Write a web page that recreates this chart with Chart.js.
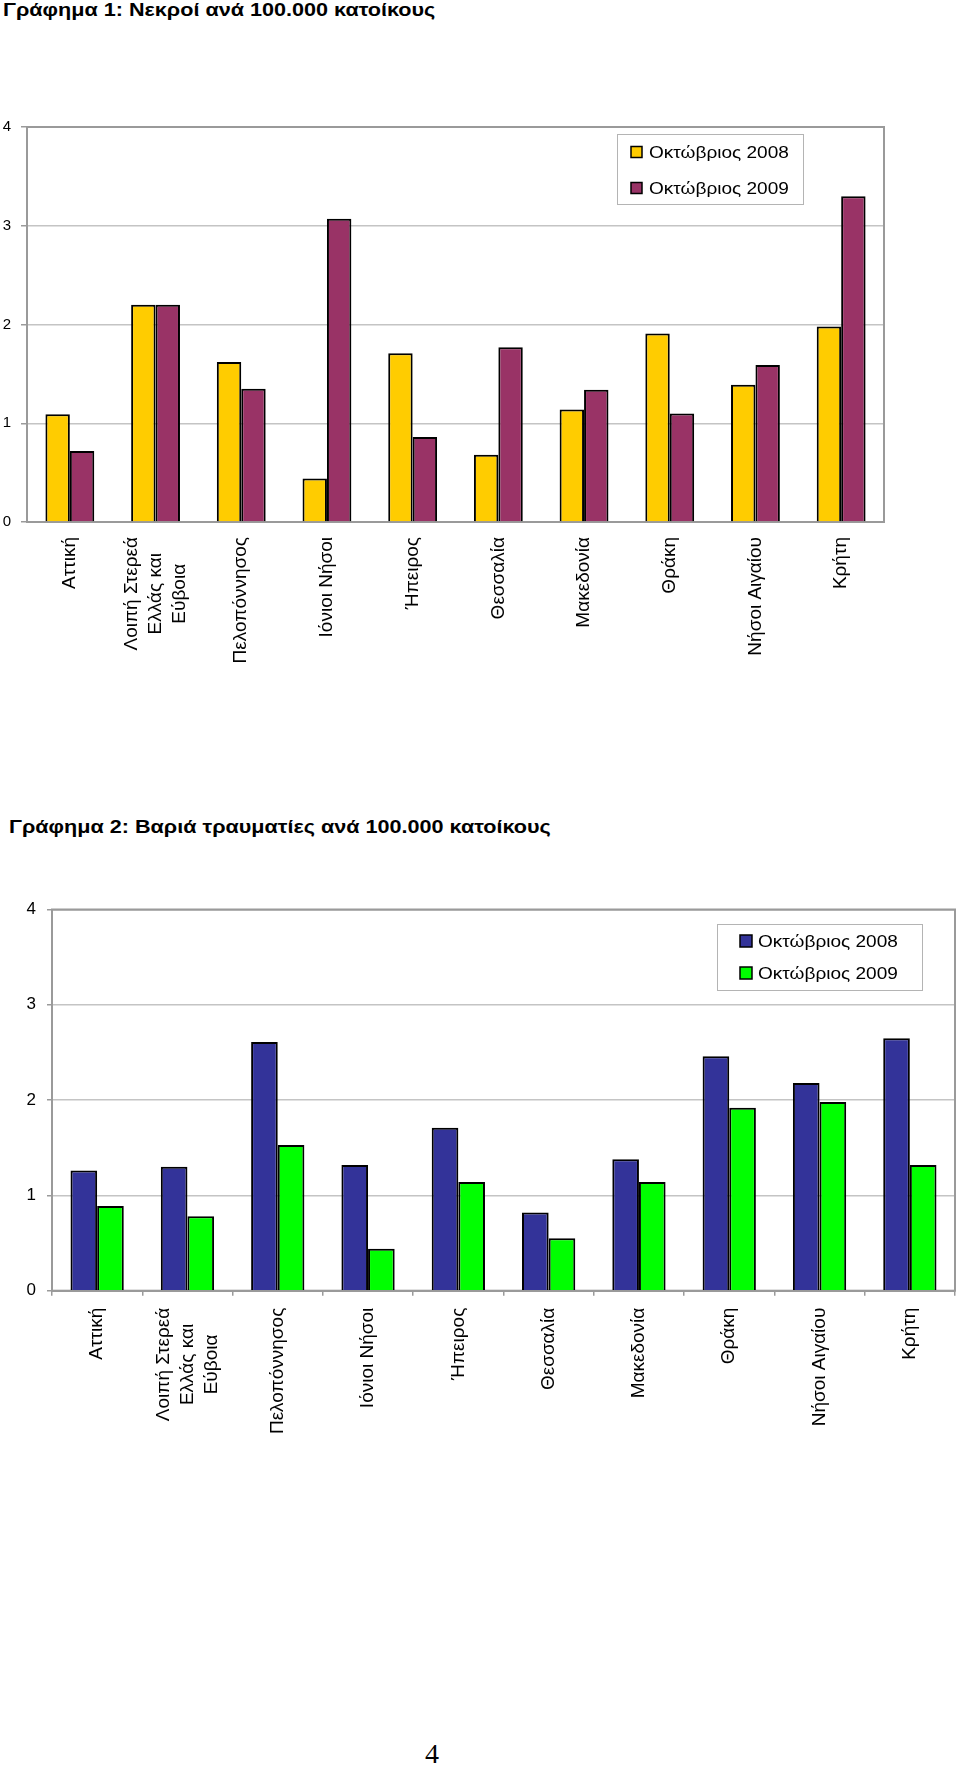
<!DOCTYPE html>
<html lang="el">
<head>
<meta charset="utf-8">
<title>Γραφήματα ανά 100.000 κατοίκους</title>
<script src="https://cdn.jsdelivr.net/npm/chart.js@4.4.1/dist/chart.umd.min.js"></script>
<style>
  html, body { margin:0; padding:0; background:#fff; }
  body { width:960px; height:1767px; position:relative; overflow:hidden; font-family:"Liberation Sans", Arial, sans-serif; }
  .title { position:absolute; font-weight:bold; font-size:18px; line-height:18px; white-space:nowrap; color:#000;
           transform:scaleX(1.2); transform-origin:0 0; }
  canvas { position:absolute; left:0; }
  #pageno { position:absolute; left:425px; top:1740px; font-family:"Liberation Serif", serif; font-size:28px; line-height:28px; }
</style>
</head>
<body>
<div class="title" id="t1" style="left:3px; top:1px;">Γράφημα 1: Νεκροί ανά 100.000 κατοίκους</div>
<canvas id="deaths" width="900" height="580" style="top:100px;"></canvas>
<div class="title" id="t2" style="left:9px; top:818px;">Γράφημα 2: Βαριά τραυματίες ανά 100.000 κατοίκους</div>
<canvas id="injured" width="960" height="560" style="top:880px;"></canvas>
<div id="pageno">4</div>

<script>
// regions (multi-line label kept as array)
const regions = ['Αττική', ['Λοιπή Στερεά', 'Ελλάς και', 'Εύβοια'], 'Πελοπόννησος', 'Ιόνιοι Νήσοι',
  'Ήπειρος', 'Θεσσαλία', 'Μακεδονία', 'Θράκη', 'Νήσοι Αιγαίου', 'Κρήτη'];
const seriesNames = ['Οκτώβριος 2008', 'Οκτώβριος 2009'];
const yTicks = [0, 1, 2, 3, 4];

// Γράφημα 1: νεκροί
const deaths2008 = [1.09, 2.20, 1.62, 0.44, 1.71, 0.68, 1.14, 1.91, 1.39, 1.98];
const deaths2009 = [0.72, 2.20, 1.35, 3.07, 0.86, 1.77, 1.34, 1.10, 1.59, 3.30];

// Γράφημα 2: βαριά τραυματίες
const injured2008 = [1.26, 1.30, 2.61, 1.32, 1.71, 0.82, 1.38, 2.46, 2.18, 2.65];
const injured2009 = [0.89, 0.78, 1.53, 0.44, 1.14, 0.55, 1.14, 1.92, 1.98, 1.32];

const AXIS = '#9a9a9a';
const GRID = '#c4c4c4';

// grey frame round the plot area (Excel style)
const framePlugin = {
  id: 'frame',
  beforeDatasetsDraw(chart){
    const {ctx, chartArea: a} = chart;
    ctx.save();
    ctx.strokeStyle = AXIS;
    ctx.lineWidth = 2;
    ctx.strokeRect(a.left, a.top, a.right - a.left, a.bottom - a.top);
    ctx.restore();
  }
};

// rotated category labels, lines centred on each other
const xLabelsPlugin = {
  id: 'xLabels',
  afterDraw(chart, args, opts){
    const {ctx} = chart;
    const sx = chart.scales.x;
    ctx.save();
    ctx.font = opts.font;
    ctx.fillStyle = '#000';
    ctx.textAlign = 'center';
    ctx.textBaseline = 'middle';
    chart.data.labels.forEach((lab, i) => {
      const lines = Array.isArray(lab) ? lab : [lab];
      const maxW = Math.max(...lines.map(l => ctx.measureText(l).width));
      const px = sx.getPixelForTick(i);
      ctx.save();
      ctx.translate(px, sx.top + opts.gap);
      ctx.rotate(-Math.PI / 2);
      lines.forEach((l, j) => {
        ctx.fillText(l, -maxW / 2, (j - (lines.length - 1) / 2) * opts.lineHeight);
      });
      ctx.restore();
    });
    ctx.restore();
  }
};

// legend box inside the plot area
const legendBoxPlugin = {
  id: 'legendBox',
  afterDraw(chart, args, opts){
    const {ctx, chartArea: a} = chart;
    const left = a.right - opts.right - opts.width;
    const top = a.top + opts.top;
    ctx.save();
    ctx.fillStyle = '#fff';
    ctx.fillRect(left, top, opts.width, opts.height);
    ctx.strokeStyle = '#b4b4b4';
    ctx.lineWidth = 1;
    ctx.strokeRect(left + 0.5, top + 0.5, opts.width, opts.height);
    ctx.font = opts.font;
    ctx.textBaseline = 'middle';
    ctx.textAlign = 'left';
    chart.data.datasets.forEach((ds, i) => {
      const y = top + opts.rows[i];
      const s = opts.marker;
      ctx.fillStyle = ds.backgroundColor;
      ctx.fillRect(left + opts.markerX, y - s / 2, s, s);
      ctx.strokeStyle = '#000';
      ctx.lineWidth = 1.5;
      ctx.strokeRect(left + opts.markerX, y - s / 2, s, s);
      ctx.fillStyle = '#000';
      // text is a little stretched sideways in the original
      ctx.save();
      ctx.translate(left + opts.textX, y + 1);
      ctx.scale(opts.stretch, 1);
      ctx.fillText(ds.label, 0, 0);
      ctx.restore();
    });
    ctx.restore();
  }
};

function makeChart(id, a, b, colors, cfg){
  return new Chart(document.getElementById(id), {
    type: 'bar',
    data: {
      labels: regions,
      datasets: [
        {label: seriesNames[0], data: a, backgroundColor: colors[0], borderColor: '#000', borderWidth: 2},
        {label: seriesNames[1], data: b, backgroundColor: colors[1], borderColor: '#000', borderWidth: 2}
      ]
    },
    options: {
      responsive: false,
      animation: false,
      devicePixelRatio: 1,
      layout: {padding: {top: cfg.padTop, right: cfg.padRight, left: 0, bottom: 0}},
      datasets: {bar: {categoryPercentage: cfg.groupWidth, barPercentage: 1.0}},
      scales: {
        x: {
          ticks: {display: false},
          grid: {display: cfg.xTicks, drawOnChartArea: false, offset: true, tickLength: 5, color: AXIS, lineWidth: 1.5},
          border: {color: AXIS, width: 2},
          afterFit: s => { s.height = cfg.xHeight; }
        },
        y: {
          min: yTicks[0], max: yTicks[yTicks.length - 1],
          afterBuildTicks: s => { s.ticks = yTicks.map(v => ({value: v})); },
          ticks: {color: '#000', padding: cfg.yPad, font: {family: 'Liberation Sans', size: cfg.yFont}},
          grid: {
            color: c => (c.tick && (c.tick.value === 0 || c.tick.value === 4)) ? AXIS : GRID,
            lineWidth: 1.5,
            tickColor: AXIS,
            tickLength: cfg.yTickLen
          },
          border: {color: AXIS, width: 2},
          afterFit: s => { s.width = cfg.yWidth; }
        }
      },
      plugins: {
        legend: {display: false},
        tooltip: {enabled: false},
        xLabels: {font: '19px "Liberation Sans"', gap: cfg.labelGap, lineHeight: 24},
        legendBox: cfg.legend
      }
    },
    plugins: [framePlugin, xLabelsPlugin, legendBoxPlugin]
  });
}

makeChart('deaths', deaths2008, deaths2009, ['#FFCC00', '#993366'], {
  padTop: 27, padRight: 16, yWidth: 27, xHeight: 158, groupWidth: 0.57,
  yFont: 15, yPad: 10, yTickLen: 6, xTicks: false, labelGap: 15,
  legend: {right: 81, top: 7, width: 186, height: 70, markerX: 14, textX: 32, marker: 11,
           rows: [18, 54], font: '17px "Liberation Sans"', stretch: 1.12}
});

makeChart('injured', injured2008, injured2009, ['#333399', '#00FF00'], {
  padTop: 29.5, padRight: 5, yWidth: 52, xHeight: 149.3, groupWidth: 0.59,
  yFont: 17, yPad: 11, yTickLen: 5, xTicks: true, labelGap: 17,
  legend: {right: 33, top: 14.5, width: 205, height: 66, markerX: 23, textX: 41, marker: 12,
           rows: [17, 49], font: '17px "Liberation Sans"', stretch: 1.12}
});
</script>
</body>
</html>
